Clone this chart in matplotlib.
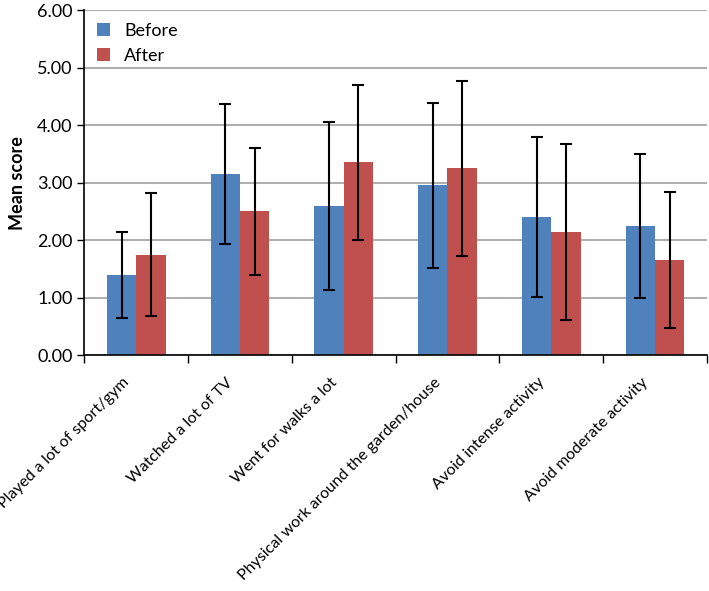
import matplotlib.pyplot as plt
import matplotlib.transforms as mtransforms
import numpy as np

plt.rcParams['font.family'] = ['Lato', 'DejaVu Sans']

categories = ['Played a lot of sport/gym', 'Watched a lot of TV', 'Went for walks a lot',
              'Physical work around the garden/house', 'Avoid intense activity',
              'Avoid moderate activity']
before = [1.40, 3.15, 2.60, 2.95, 2.40, 2.25]
after = [1.75, 2.50, 3.35, 3.25, 2.15, 1.65]
before_err = [0.75, 1.22, 1.46, 1.43, 1.39, 1.25]
after_err = [1.07, 1.10, 1.35, 1.52, 1.53, 1.18]

fig = plt.figure(figsize=(7.09, 5.91), dpi=100)
ax = fig.add_axes([0.119, 0.399, 0.878, 0.584])

x = np.arange(len(categories))
w = 0.283
ekw = dict(ecolor='black', elinewidth=1.5, capsize=4, capthick=1.5)
ax.bar(x - w / 2, before, w, color='#4F81BD', label='Before', yerr=before_err, error_kw=ekw, zorder=2)
ax.bar(x + w / 2, after, w, color='#C0504D', label='After', yerr=after_err, error_kw=ekw, zorder=2)

ax.set_ylim(0, 6)
ax.set_xlim(-0.5, len(categories) - 0.5)
ax.set_yticks(np.arange(0, 6.01, 1))
ax.set_yticklabels(['%.2f' % v for v in np.arange(0, 6.01, 1)], fontsize=13)
ax.yaxis.grid(True, color='#a0a0a0', linewidth=1.2, zorder=0)
ax.set_axisbelow(True)
ax.tick_params(axis='y', length=5, width=1, direction='out')

# ticks at the category boundaries, labels at the centres
ax.set_xticks(np.arange(-0.5, len(categories), 1))
ax.set_xticklabels([])
ax.tick_params(axis='x', which='major', length=6, width=1, direction='out')
ax.set_xticks(x, minor=True)
labels = ax.set_xticklabels(categories, minor=True, rotation=45, ha='right', va='center',
                            rotation_mode='anchor', fontsize=11.5)
ax.tick_params(axis='x', which='minor', length=0, pad=18)
shift = mtransforms.ScaledTranslation(-0.09, 0, fig.dpi_scale_trans)
for lab in labels:
    lab.set_transform(lab.get_transform() + shift)

ax.spines['top'].set_visible(False)
ax.spines['right'].set_visible(False)
ax.spines['left'].set_linewidth(1.2)
ax.spines['bottom'].set_linewidth(1.2)

ax.set_ylabel('Mean score', fontsize=13, fontweight='bold', labelpad=8)

ax.legend(loc='upper left', frameon=False, fontsize=13, handlelength=0.7, handleheight=0.7,
          borderaxespad=0.3, labelspacing=0.5)

fig.savefig('out.png', dpi=100)
